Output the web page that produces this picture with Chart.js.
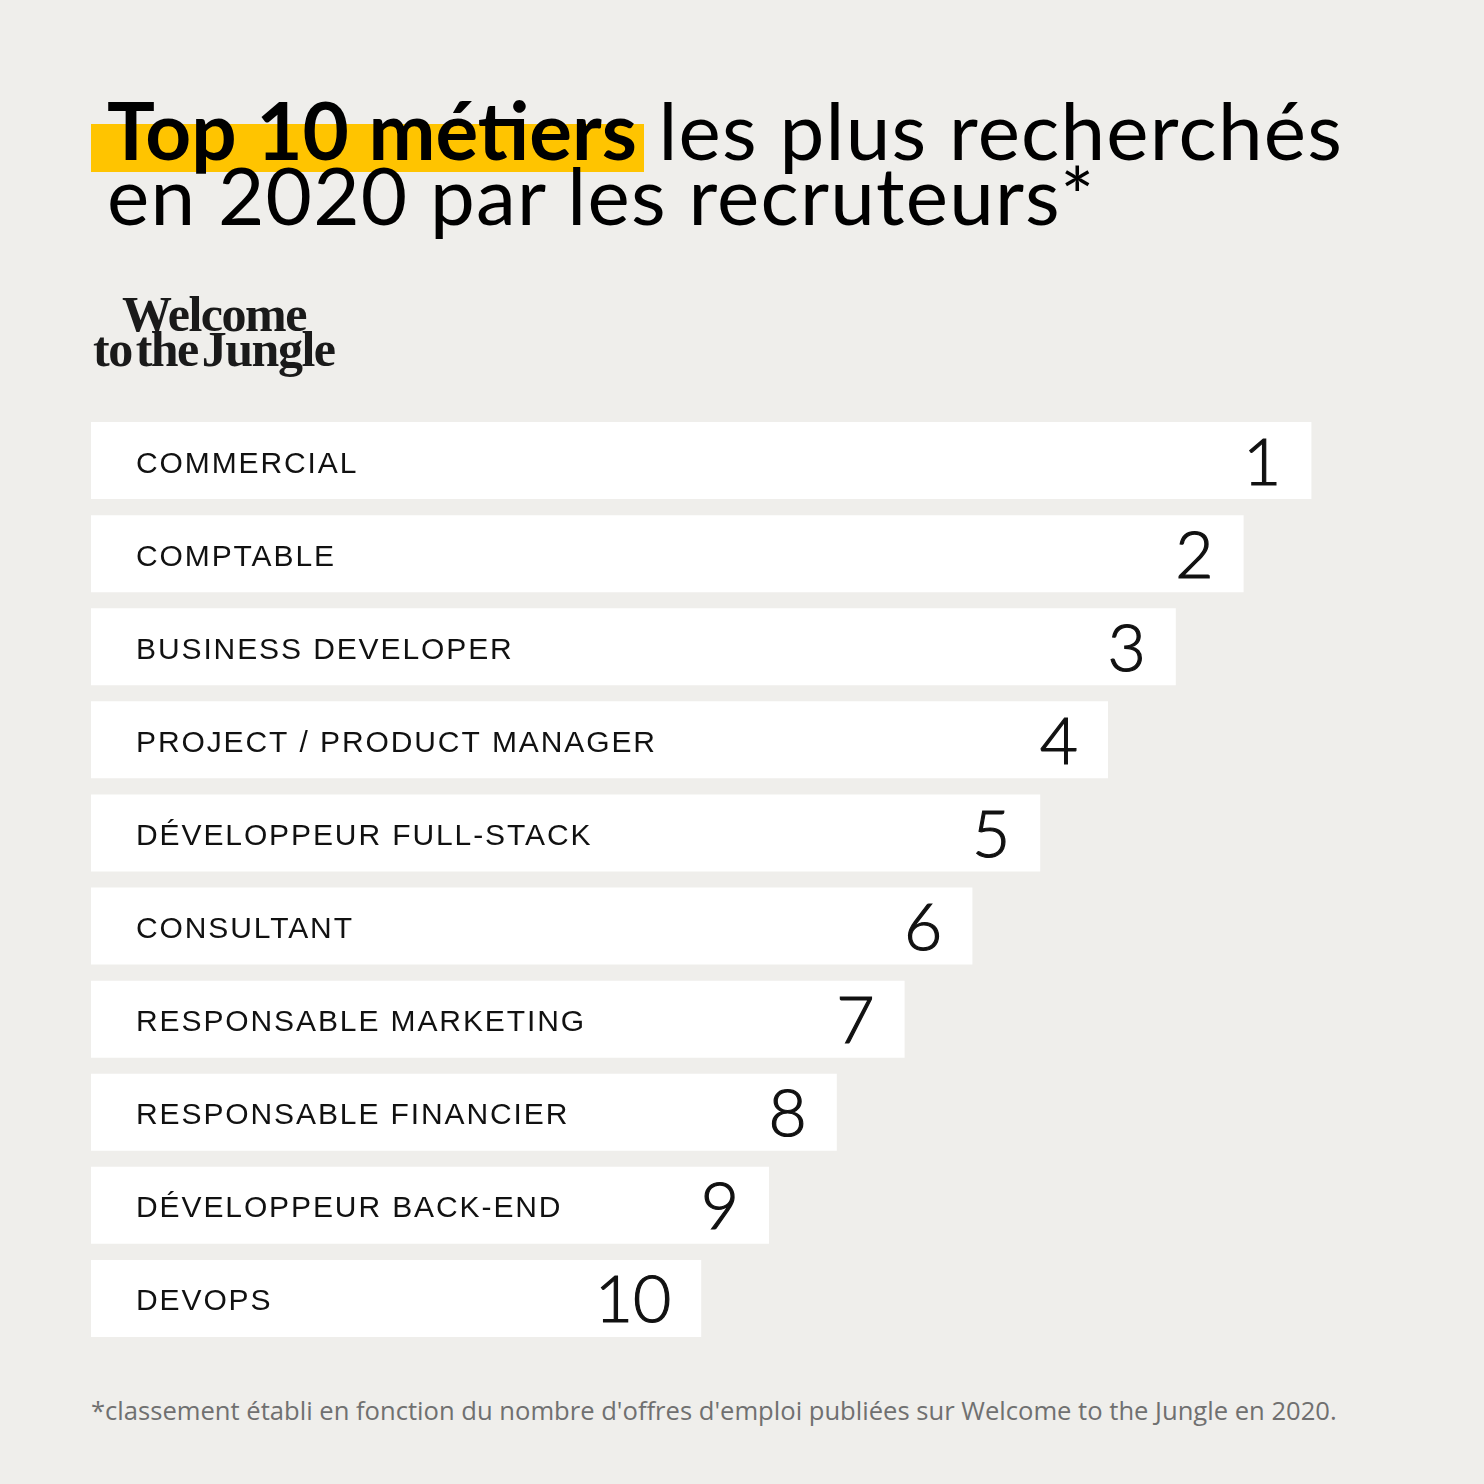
<!DOCTYPE html>
<html lang="fr">
<head>
<meta charset="utf-8">
<script src="https://cdn.jsdelivr.net/npm/chart.js@4.4.1/dist/chart.umd.min.js"></script>
<style>
  body { margin: 0; background: #efeeeb; }
  #page { position: relative; width: 1484px; height: 1484px; overflow: hidden; background: #efeeeb; }
  .hl { position: absolute; left: 91px; top: 124px; width: 553px; height: 48px; background: #ffc400; }
  .title { position: absolute; left: 107px; top: 97px; font-family: "Lato", sans-serif; font-size: 80px;
           line-height: 65px; color: #000; white-space: nowrap; font-weight: 400; letter-spacing: 1.2px; }
  .title b { font-weight: 700; letter-spacing: 0; }
  .logo { position: absolute; left: 93px; top: 297px; font-family: "Liberation Serif", serif; font-weight: 700;
          font-size: 50px; line-height: 35px; color: #1a1a1a; letter-spacing: -1.5px; word-spacing: -7px; }
  .logo .l1 { padding-left: 29px; }
  .note { position: absolute; left: 91px; top: 1393px; font-family: "Open Sans", sans-serif; font-size: 25.6px;
          color: #707070; white-space: nowrap; }
  #chart { position: absolute; left: 91px; top: 414px; }
</style>
</head>
<body>
<div id="page">
  <div class="hl"></div>
  <div class="title"><b>Top 10 métiers</b> les plus recherchés<br>en 2020 par les recruteurs*</div>
  <div class="logo"><div class="l1">Welcome</div><div>to the Jungle</div></div>
  <canvas id="chart" width="1356" height="931"></canvas>
  <div class="note">*classement établi en fonction du nombre d'offres d'emploi publiées sur Welcome to the Jungle en 2020.</div>
</div>
<script>
// Données
const metiers = [
  "COMMERCIAL",
  "COMPTABLE",
  "BUSINESS DEVELOPER",
  "PROJECT / PRODUCT MANAGER",
  "DÉVELOPPEUR FULL-STACK",
  "CONSULTANT",
  "RESPONSABLE MARKETING",
  "RESPONSABLE FINANCIER",
  "DÉVELOPPEUR BACK-END",
  "DEVOPS"
];
const longueurs = [18, 17, 16, 15, 14, 13, 12, 11, 10, 9];
const rangs = ["1", "2", "3", "4", "5", "6", "7", "8", "9", "10"];

// libellé à gauche + numéro du rang au bout de chaque barre
const textes = {
  id: "textes",
  afterDatasetsDraw(chart) {
    const ctx = chart.ctx;
    const meta = chart.getDatasetMeta(0);
    ctx.save();
    meta.data.forEach((bar, i) => {
      // libellé
      ctx.letterSpacing = "1.9px";
      ctx.font = "30px 'Liberation Sans'";
      ctx.fillStyle = "#111";
      ctx.textAlign = "left";
      ctx.textBaseline = "alphabetic";
      ctx.fillText(chart.data.labels[i], bar.base + 45, bar.y + 12);
      // rang
      ctx.letterSpacing = "0px";
      ctx.font = "300 66px Lato";
      ctx.textAlign = "right";
      ctx.strokeStyle = "#111";
      ctx.lineWidth = 1.2;
      ctx.fillText(rangs[i], bar.x - 30, bar.y + 24);
      ctx.strokeText(rangs[i], bar.x - 30, bar.y + 24);
    });
    ctx.restore();
  }
};

let ctx1 = document.getElementById("chart").getContext("2d");
let graf = new Chart(ctx1, {
  type: "bar",
  data: {
    labels: metiers,
    datasets: [
      {
        data: longueurs,
        backgroundColor: "#ffffff",
        borderWidth: 0,
        barPercentage: 0.827,
        categoryPercentage: 1,
      },
    ],
  },
  options: {
    indexAxis: "y",
    responsive: false,
    devicePixelRatio: 1,
    animation: false,
    layout: { padding: 0 },
    scales: {
      x: { display: false, min: 0, max: 20 },
      y: { display: false },
    },
    plugins: {
      legend: { display: false },
      tooltip: { enabled: false },
    },
  },
  plugins: [textes],
});
</script>
</body>
</html>
